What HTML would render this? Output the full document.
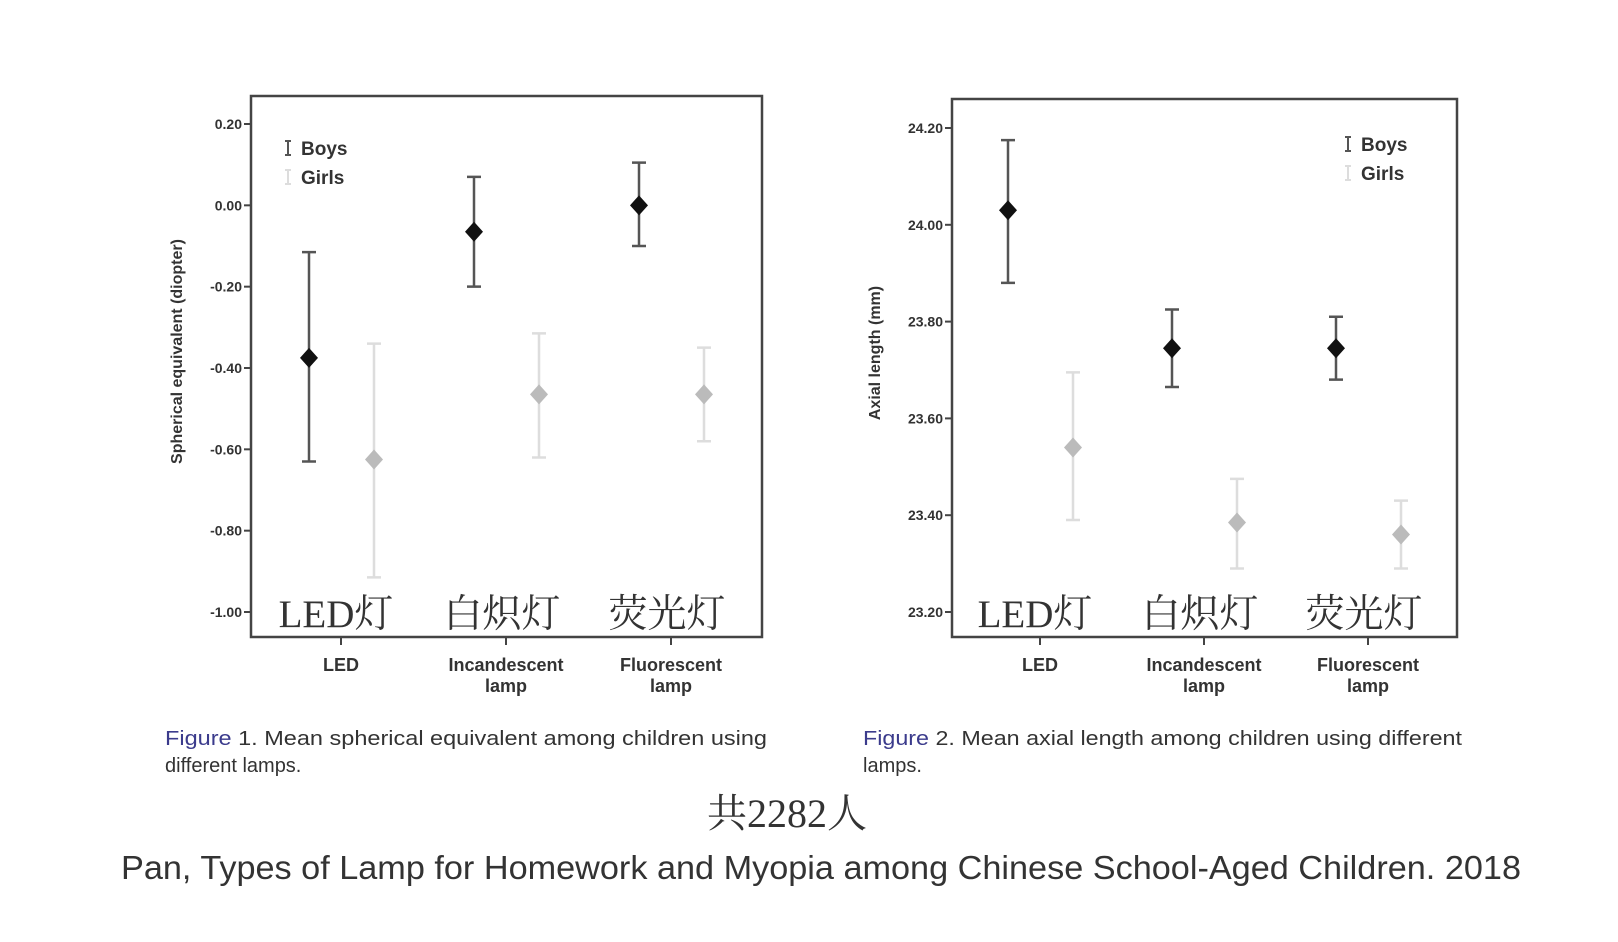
<!DOCTYPE html>
<html><head><meta charset="utf-8"><style>
body{margin:0;background:#fff}
svg{display:block}
text{font-family:"Liberation Sans","Noto Sans CJK SC",sans-serif}
.tk{font-size:14px;font-weight:bold;fill:#333}
.xl{font-size:18px;font-weight:bold;fill:#333}
.cn{font-family:"Liberation Serif","Noto Serif CJK SC",serif;font-size:39px;fill:#333}
.cap{font-family:"Liberation Sans Narrow","Liberation Sans",sans-serif;font-size:20px;fill:#333}
</style></head><body>
<svg id="svg" width="1618" height="942" viewBox="0 0 1618 942">
<rect width="1618" height="942" fill="#fff"/>
<g id="c1"></g>
<g id="c2"></g>
<text x="165" y="745" class="cap" textLength="602" lengthAdjust="spacingAndGlyphs"><tspan fill="#3b3b8c">Figure</tspan> 1. Mean spherical equivalent among children using</text>
<text x="165" y="772" class="cap">different lamps.</text>
<text x="863" y="745" class="cap" textLength="599" lengthAdjust="spacingAndGlyphs"><tspan fill="#3b3b8c">Figure</tspan> 2. Mean axial length among children using different</text>
<text x="863" y="772" class="cap">lamps.</text>
<text x="787" y="827" text-anchor="middle" style="font-family:'Liberation Serif','Noto Serif CJK SC',serif;font-size:40px;fill:#333">共2282人</text>
<text x="121" y="879" textLength="1400" lengthAdjust="spacingAndGlyphs" style="font-size:33px;fill:#333">Pan, Types of Lamp for Homework and Myopia among Chinese School-Aged Children. 2018</text>
</svg>
<script>
const categories=["LED","Incandescent lamp","Fluorescent lamp"];
const cnLabels=["LED灯","白炽灯","荧光灯"];
const seBoysMean=[-0.375,-0.065,0.0];
const seBoysLow=[-0.63,-0.20,-0.10];
const seBoysHigh=[-0.115,0.07,0.105];
const seGirlsMean=[-0.625,-0.465,-0.465];
const seGirlsLow=[-0.915,-0.62,-0.58];
const seGirlsHigh=[-0.34,-0.315,-0.35];
const seTicks=["0.20","0.00","-0.20","-0.40","-0.60","-0.80","-1.00"];
const alBoysMean=[24.03,23.745,23.745];
const alBoysLow=[23.88,23.665,23.68];
const alBoysHigh=[24.175,23.825,23.81];
const alGirlsMean=[23.54,23.385,23.36];
const alGirlsLow=[23.39,23.29,23.29];
const alGirlsHigh=[23.695,23.475,23.43];
const alTicks=["24.20","24.00","23.80","23.60","23.40","23.20"];
const NS="http://www.w3.org/2000/svg";
function mk(p,tag,a,txt){const e=document.createElementNS(NS,tag);for(const k in a)e.setAttribute(k,a[k]);if(txt!==undefined)e.textContent=txt;p.appendChild(e);return e;}
function draw(g,cfg){
  const {L,R,T,B,y0,y1,v0,v1,cx,ticks,bm,bl,bh,gm,gl,gh,title,titleX,legX,legY}=cfg;
  const y=v=>y0+(v-v0)/(v1-v0)*(y1-y0);
  const box=mk(g,'rect',{x:L,y:T,width:R-L,height:B-T,fill:'none',stroke:'#444','stroke-width':2.5});
  
  
  ticks.forEach(t=>{const yy=y(parseFloat(t));
    const l=mk(g,'line',{x1:L-7,x2:L,y1:yy,y2:yy,stroke:'#444','stroke-width':2});
    
    
    const tx=mk(g,'text',{x:L-9,y:yy+5,'text-anchor':'end',class:'tk'},t);
    
    
  });
  categories.forEach((c,i)=>{const x=cx(i);
    const l=mk(g,'line',{x1:x,x2:x,y1:B,y2:B+8,stroke:'#444','stroke-width':2});
    
    
    const parts=c==="LED"?["LED"]:c.split(" ");
    parts.forEach((p,j)=>{const t=mk(g,'text',{x:x,y:B+34+j*21,'text-anchor':'middle',class:'xl'},p);
      
      });
    const cn=mk(g,'text',{x:x+(i==0?-5:-4),y:B-10,'text-anchor':'middle',class:'cn'},cnLabels[i]);
    
    
  });
  const series=[[bm,bl,bh,-32,'#111','#555','boys'],[gm,gl,gh,33,'#bbb','#ddd','girls']];
  series.forEach(([m,lo,hi,off,fc,ec,nm])=>{
    m.forEach((v,i)=>{const x=cx(i)+off;
      const eb=mk(g,'path',{d:`M${x-7} ${y(hi[i])}H${x+7}M${x} ${y(hi[i])}V${y(lo[i])}M${x-7} ${y(lo[i])}H${x+7}`,stroke:ec,'stroke-width':2.5,fill:'none'});
      
      
      const yy=y(v);
      const d=mk(g,'path',{d:`M${x} ${yy-10}L${x+9} ${yy}L${x} ${yy+10}L${x-9} ${yy}Z`,fill:fc});
      
      
    });
  });
  const tt=mk(g,'text',{x:titleX,y:(T+B)/2-15,transform:`rotate(-90 ${titleX} ${(T+B)/2-15})`,'text-anchor':'middle',style:'font-size:16px;font-weight:bold;fill:#333'},title);
  
  
  [['Boys','#555'],['Girls','#ddd']].forEach(([n,c],k)=>{const yy=legY+k*29;
    const s=mk(g,'path',{d:`M${legX-16} ${yy-14}H${legX-10}M${legX-13} ${yy-14}V${yy}M${legX-16} ${yy}H${legX-10}`,stroke:c,'stroke-width':2,fill:'none'});
    
    
    const t=mk(g,'text',{x:legX,y:yy,style:'font-size:19px;font-weight:bold;fill:#333'},n);
    
    
  });
}
draw(document.getElementById('c1'),{L:251,R:762,T:96,B:637,y0:124,y1:612,v0:0.2,v1:-1.0,
  cx:i=>[341,506,671][i],ticks:seTicks,bm:seBoysMean,bl:seBoysLow,bh:seBoysHigh,gm:seGirlsMean,gl:seGirlsLow,gh:seGirlsHigh,
  title:'Spherical equivalent (diopter)',titleX:182,legX:301,legY:155});
draw(document.getElementById('c2'),{L:952,R:1457,T:99,B:637,y0:128,y1:612,v0:24.2,v1:23.2,
  cx:i=>[1040,1204,1368][i],ticks:alTicks,bm:alBoysMean,bl:alBoysLow,bh:alBoysHigh,gm:alGirlsMean,gl:alGirlsLow,gh:alGirlsHigh,
  title:'Axial length (mm)',titleX:880,legX:1361,legY:151});
</script>
</body></html>
